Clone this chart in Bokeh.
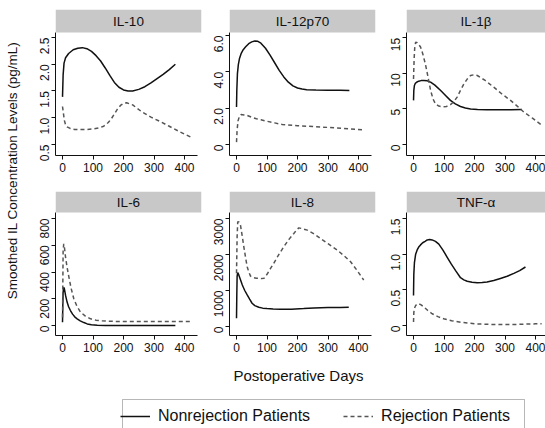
import math
from bokeh.plotting import figure
from bokeh.models import (Range1d, FixedTicker, PrintfTickFormatter, BoxAnnotation,
                          Label, Legend, LegendItem)
from bokeh.layouts import row, column
from bokeh.embed import file_html
from bokeh.resources import INLINE

# ---------------- data ----------------
x_ticks = [0, 100, 200, 300, 400]

il10_non_days = [0, 2, 5, 10, 20, 35, 50, 65, 80, 95, 110, 125, 140, 155, 170, 185, 200, 215, 230, 250, 270, 290, 310, 330, 350, 370]
il10_non_vals = [1.39, 1.8, 2.02, 2.12, 2.2, 2.27, 2.3, 2.31, 2.29, 2.24, 2.16, 2.06, 1.93, 1.79, 1.66, 1.57, 1.52, 1.50, 1.50, 1.53, 1.58, 1.65, 1.73, 1.81, 1.90, 2.00]
il10_rej_days = [0, 3, 6, 10, 15, 25, 40, 60, 80, 100, 120, 135, 150, 160, 170, 180, 190, 200, 210, 230, 260, 290, 320, 350, 380, 420]
il10_rej_vals = [1.21, 1.08, 0.95, 0.87, 0.83, 0.80, 0.78, 0.78, 0.78, 0.79, 0.81, 0.84, 0.91, 0.98, 1.07, 1.16, 1.23, 1.27, 1.28, 1.24, 1.11, 1.01, 0.93, 0.84, 0.75, 0.64]

il12_non_days = [0, 1, 3, 6, 10, 15, 22, 30, 40, 50, 60, 70, 80, 95, 110, 125, 140, 155, 170, 185, 200, 215, 230, 260, 300, 340, 370]
il12_non_vals = [2.06, 3.0, 3.9, 4.4, 4.75, 5.0, 5.22, 5.38, 5.55, 5.65, 5.70, 5.68, 5.58, 5.3, 4.92, 4.5, 4.08, 3.72, 3.43, 3.23, 3.11, 3.05, 3.02, 3.0, 2.99, 2.98, 2.97]
il12_rej_days = [0, 2, 5, 10, 15, 25, 35, 50, 65, 80, 100, 125, 150, 200, 250, 300, 350, 420]
il12_rej_vals = [0.13, 0.8, 1.3, 1.58, 1.65, 1.63, 1.6, 1.5, 1.42, 1.36, 1.28, 1.19, 1.1, 1.03, 0.99, 0.94, 0.88, 0.8]

il1b_non_days = [0, 1, 3, 6, 10, 17, 25, 34, 45, 56, 70, 89, 105, 121, 137, 154, 170, 187, 210, 241, 280, 320, 355]
il1b_non_vals = [6.2, 7.6, 8.3, 8.6, 8.75, 8.9, 8.98, 9.0, 8.95, 8.77, 8.35, 7.6, 6.9, 6.2, 5.7, 5.34, 5.12, 5.0, 4.92, 4.87, 4.87, 4.9, 4.92]
il1b_rej_days = [0, 2, 4, 7, 12, 18, 23, 30, 39, 48, 56, 64, 72, 83, 94, 108, 121, 132, 143, 154, 165, 176, 187, 198, 209, 235, 263, 290, 318, 340, 362, 390, 422]
il1b_rej_vals = [9.2, 12.0, 13.6, 14.4, 14.3, 14.0, 13.7, 12.8, 11.3, 9.4, 7.6, 6.4, 5.7, 5.4, 5.3, 5.35, 5.6, 6.0, 6.66, 7.6, 8.5, 9.2, 9.7, 9.8, 9.7, 9.0, 8.06, 7.1, 6.2, 5.4, 4.55, 3.7, 2.67]

il6_non_days = [0, 1, 2, 4, 6, 10, 15, 20, 26, 33, 40, 48, 58, 70, 81, 95, 114, 140, 200, 300, 370]
il6_non_vals = [25, 150, 250, 285, 275, 225, 175, 140, 112, 85, 65, 50, 35, 22, 12, 6, 2, 0, 0, 0, 0]
il6_rej_days = [0, 1, 2, 4, 6, 10, 15, 21, 28, 37, 47, 59, 75, 92, 110, 125, 160, 234, 300, 420]
il6_rej_vals = [60, 300, 560, 610, 590, 510, 435, 362, 280, 200, 145, 100, 70, 50, 40, 35, 31, 30, 30, 30]

il8_non_days = [0, 1, 2, 4, 8, 13, 19, 27, 35, 43, 51, 60, 73, 86, 100, 120, 144, 180, 220, 254, 300, 340, 368]
il8_non_vals = [230, 900, 1400, 1500, 1420, 1300, 1154, 1000, 877, 760, 646, 580, 535, 510, 500, 488, 480, 482, 500, 517, 525, 530, 535]
il8_rej_days = [0, 2, 4, 8, 13, 18, 24, 30, 35, 40, 46, 55, 65, 73, 82, 90, 100, 112, 122, 138, 155, 172, 188, 196, 204, 215, 232, 255, 275, 300, 330, 352, 374, 395, 417]
il8_rej_vals = [1480, 2500, 2908, 2900, 2815, 2550, 2215, 1900, 1662, 1520, 1400, 1360, 1340, 1338, 1330, 1338, 1450, 1620, 1754, 1990, 2215, 2420, 2585, 2670, 2740, 2720, 2677, 2570, 2446, 2300, 2123, 1970, 1800, 1560, 1292]

tnf_non_days = [0, 1, 3, 7, 12, 17, 23, 30, 38, 45, 53, 61, 72, 83, 96, 110, 124, 138, 154, 165, 176, 192, 209, 225, 241, 263, 285, 307, 329, 348, 367]
tnf_non_vals = [0.42, 0.72, 0.88, 1.0, 1.06, 1.1, 1.13, 1.16, 1.18, 1.2, 1.205, 1.2, 1.18, 1.14, 1.06, 0.96, 0.86, 0.77, 0.67, 0.64, 0.62, 0.605, 0.6, 0.603, 0.61, 0.63, 0.66, 0.69, 0.73, 0.77, 0.82]
tnf_rej_days = [0, 1, 3, 7, 12, 17, 25, 34, 47, 61, 80, 99, 125, 154, 180, 209, 250, 285, 340, 400, 420]
tnf_rej_vals = [0.05, 0.18, 0.24, 0.28, 0.3, 0.305, 0.29, 0.26, 0.21, 0.165, 0.125, 0.094, 0.066, 0.047, 0.033, 0.023, 0.016, 0.014, 0.016, 0.023, 0.025]

panel_titles = ["IL-10", "IL-12p70", "IL-1\u03b2", "IL-6", "IL-8", "TNF-\u03b1"]
y_ticks = [[0.5, 1.0, 1.5, 2.0, 2.5], [0, 2, 4, 6], [0, 5, 10, 15],
           [0, 200, 400, 600, 800], [0, 1000, 2000, 3000], [0, 0.5, 1.0, 1.5]]
y_fmt = ["%.1f", "%.1f", None, None, None, "%.1f"]
y_limits = [(0.294, 2.593), (-0.605, 6.165), (-1.547, 15.745),
            (-74.8, 844.9), (-250, 3166.7), (-0.14, 1.584)]

legend_labels = ["Nonrejection Patients", "Rejection Patients"]
x_title = "Postoperative Days"
y_title = "Smoothed IL Concentration Levels (pg/mL)"

series = [
    (il10_non_days, il10_non_vals, il10_rej_days, il10_rej_vals),
    (il12_non_days, il12_non_vals, il12_rej_days, il12_rej_vals),
    (il1b_non_days, il1b_non_vals, il1b_rej_days, il1b_rej_vals),
    (il6_non_days, il6_non_vals, il6_rej_days, il6_rej_vals),
    (il8_non_days, il8_non_vals, il8_rej_days, il8_rej_vals),
    (tnf_non_days, tnf_non_vals, tnf_rej_days, tnf_rej_vals),
]

# ---------------- styling / layout ----------------
FONT = "Liberation Sans"
INK = "#111111"
DASH_COL = "#555555"
STRIP = "#c8c8c8"
X_START = -23.0
PX_PER_DAY = 0.305

# per column: (min_border_left, frame_width, min_border_right)
cols = [(27, 146, 2), (26, 146, 3), (28, 139, 0)]
# per row: (min_border_top, frame_height, strip_px, min_border_bottom)
rows_cfg = [(9, 146, 23, 35), (1, 144, 21, 23)]


def make_panel(i):
    r, c = divmod(i, 3)
    mbl, fw, mbr = cols[c]
    mbt, fh, strip_px, mbb = rows_cfg[r]
    y_lo, y_hi = y_limits[i]
    data_px = fh - strip_px
    y_top = y_hi + (y_hi - y_lo) * strip_px / data_px
    x_end = X_START + fw / PX_PER_DAY
    p = figure(frame_width=fw, frame_height=fh,
               x_range=Range1d(X_START, x_end), y_range=Range1d(y_lo, y_top),
               output_backend="svg", toolbar_location=None,
               min_border_left=mbl, min_border_right=mbr,
               min_border_top=mbt, min_border_bottom=mbb)
    p.outline_line_color = None
    p.grid.visible = False
    p.background_fill_color = "white"
    p.border_fill_color = "white"
    nx, ny, rx, ry = series[i]
    p.line(nx, ny, line_color=INK, line_width=1.5)
    p.line(rx, ry, line_color=DASH_COL, line_width=1.5, line_dash="4 3")
    p.add_layout(BoxAnnotation(bottom=y_hi, fill_color=STRIP, fill_alpha=1.0,
                               line_color=None))
    p.add_layout(Label(x=(X_START + x_end) / 2, y=(y_hi + y_top) / 2,
                       text=panel_titles[i], text_align="center",
                       text_baseline="middle", text_font=FONT,
                       text_font_size="13.5px", text_color=INK))
    for ax in (p.xaxis[0], p.yaxis[0]):
        ax.major_tick_out = 4
        ax.major_tick_in = 0
        ax.minor_tick_line_color = None
        ax.axis_line_color = INK
        ax.major_tick_line_color = INK
        ax.major_label_text_font = FONT
        ax.major_label_text_font_size = "12px"
        ax.major_label_text_color = INK
    p.xaxis.ticker = FixedTicker(ticks=x_ticks)
    p.xaxis.major_label_standoff = 3
    p.xaxis.bounds = (X_START, 443)
    p.yaxis.ticker = FixedTicker(ticks=y_ticks[i])
    p.yaxis.major_label_orientation = math.pi / 2
    p.yaxis.major_label_standoff = 7
    p.yaxis.bounds = (y_lo, y_hi)
    if y_fmt[i]:
        p.yaxis.formatter = PrintfTickFormatter(format=y_fmt[i])
        if 0 in y_ticks[i]:
            p.yaxis.major_label_overrides = {0: "0"}
    return p


panels = [make_panel(i) for i in range(6)]

TOP_H = 190 + 168  # heights of the two panel rows
W = 545
BOT_H = 428 - TOP_H

# y-axis title column
ylab = figure(width=28, height=TOP_H, x_range=Range1d(0, 28), y_range=Range1d(0, TOP_H),
              min_border=0, toolbar_location=None, output_backend="svg",
              x_axis_location=None, y_axis_location=None)
ylab.outline_line_color = None
ylab.grid.visible = False
ylab.add_layout(Label(x=12, y=TOP_H - 170, text=y_title, angle=math.pi / 2,
                      text_align="center", text_baseline="middle",
                      text_font=FONT, text_font_size="13.5px", text_color=INK))

# bottom: x title + legend (bottom figure units = pixels, measured from its bottom-left)
bot = figure(width=W, height=BOT_H, x_range=Range1d(0, W), y_range=Range1d(0, BOT_H),
             min_border=0, toolbar_location=None, output_backend="svg",
             x_axis_location=None, y_axis_location=None)
bot.outline_line_color = None
bot.grid.visible = False
bot.add_layout(Label(x=298, y=BOT_H - 17, text=x_title, text_align="center",
                     text_baseline="middle", text_font=FONT,
                     text_font_size="15px", text_color=INK))
# legend frame (its lower edge runs off the picture, as in the reference)
bot.add_layout(BoxAnnotation(left=122, right=524, top=BOT_H - 41, bottom=-10,
                             fill_color="white", fill_alpha=0.0,
                             line_color=INK, line_width=1))
# single-point lines: nothing drawn in the plot, but they give the legend its glyphs
r1 = bot.line(x=[0], y=[0], line_color=INK, line_width=1.5)
r2 = bot.line(x=[0], y=[0], line_color=DASH_COL, line_width=1.5, line_dash="4 3")
legend = Legend(items=[LegendItem(label=legend_labels[0], renderers=[r1]),
                       LegendItem(label=legend_labels[1], renderers=[r2])],
                orientation="horizontal", location=(120, 3),
                glyph_width=30, glyph_height=18, label_height=18,
                label_standoff=8, spacing=33, padding=4, margin=0,
                border_line_color=None, background_fill_alpha=0.0,
                label_text_font=FONT, label_text_font_size="16px",
                label_text_color=INK)
bot.add_layout(legend)

grid = column(row(*panels[:3]), row(*panels[3:]))
layout = column(row(ylab, grid), bot)

open("out.html", "w").write(file_html(layout, INLINE))
